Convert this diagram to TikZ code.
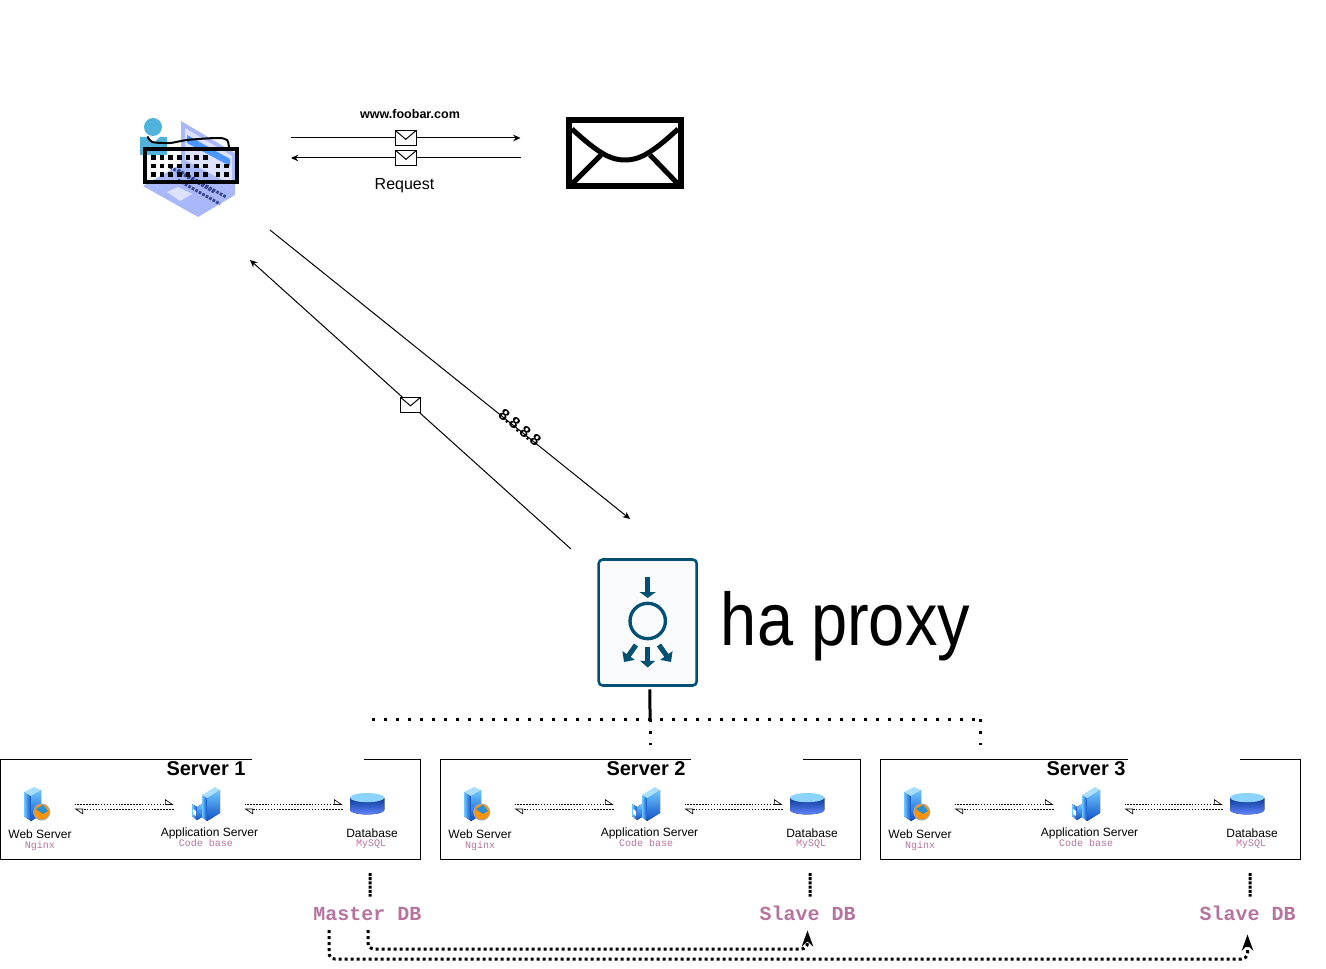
\documentclass[tikz,border=0pt]{standalone}
\usepackage{xcolor}
\usepackage{fontspec}
\setmainfont{Liberation Sans}
\setmonofont{Liberation Mono}
\usepackage{tikz}
\usetikzlibrary{arrows.meta,positioning,calc}

\definecolor{notepink}{HTML}{B5739D}
\definecolor{proxyblue}{HTML}{005073}
\definecolor{laptopblue}{HTML}{A9B8FB}
\definecolor{laptoplight}{HTML}{DCE2FF}
\definecolor{laptopdark}{HTML}{34468F}
\definecolor{personblue}{HTML}{4FB3DB}
\definecolor{towerlight}{HTML}{6FC8FF}
\definecolor{towerdark}{HTML}{0F50C8}

\newcommand{\pxfont}[1]{\fontsize{#1}{#1}\selectfont}

\begin{document}
\begin{tikzpicture}[
    x=0.75pt, y=-0.75pt, line width=0.75pt,
    arr/.style={-{Stealth[length=5.5pt,width=5pt]}},
    halfarr/.style={dash pattern=on 1.1pt off 1.1pt, line width=0.5pt, -{Triangle[open,harpoon,length=6pt,width=8pt,fill=white]}},
    mailmark/.style={draw, fill=white, inner sep=0pt, minimum width=15.5pt, minimum height=11.25pt,
        path picture={\draw[-] (path picture bounding box.north west) -- ([yshift=-1pt]path picture bounding box.center) -- (path picture bounding box.north east);}},
    toplabel/.style={inner sep=0pt, font=\pxfont{9}},
    notelabel/.style={inner sep=0pt, text=notepink, font=\ttfamily\pxfont{7.5}},
    dblabel/.style={inner sep=0pt, text=notepink, font=\ttfamily\bfseries\pxfont{15}, minimum width=81pt, minimum height=24.75pt},
    busdots/.style={line width=2.25pt, dash pattern=on 2.25pt off 6.75pt},
    stubdots/.style={line width=2.25pt, dash pattern=on 2.25pt off 0.9pt},
    dbdots/.style={line width=2.25pt, dash pattern=on 2.25pt off 2.25pt},
    syncline/.style={dbdots, rounded corners=4.5pt, -{Stealth[length=12pt,width=8.5pt]}},
    pics/webicon/.style={code={
        \fill[left color=towerlight, right color=towerdark] (24,792) -- (31,796) -- (31,821) -- (24,816) -- cycle;
        \fill[top color=towerlight, bottom color=towerdark] (31,796) -- (41,790) -- (41,815) -- (31,821) -- cycle;
        \fill[towerlight!60] (24,792) -- (34,787) -- (41,790) -- (31,796) -- cycle;
        \fill[orange!85!yellow] (41.7,812) circle (8);
        \fill[blue!40!cyan!70!gray] (36,809) -- (43,805) -- (48,811) -- (43,814) -- (40,812) -- cycle;
        \draw[gray!70] (41.7,812) circle (8);
    }},
    pics/appicon/.style={code={
        \fill[left color=towerlight, right color=towerdark] (192,804) -- (197,807) -- (197,820) -- (192,816) -- cycle;
        \fill[top color=towerlight, bottom color=towerdark] (197,807) -- (202,804) -- (202,817) -- (197,820) -- cycle;
        \fill[white] (193,809) -- (196,811) -- (196,816) -- (193,814) -- cycle;
        \fill[left color=towerlight, right color=towerdark] (202,795) -- (207,798) -- (207,821) -- (202,817) -- cycle;
        \fill[top color=towerlight, bottom color=towerdark] (207,798) -- (220,790) -- (220,813) -- (207,821) -- cycle;
        \fill[towerlight!60] (202,795) -- (215,787) -- (220,790) -- (207,798) -- cycle;
    }},
    pics/dbicon/.style={code={
        \fill[top color=towerdark!75!black, bottom color=towerlight!50!blue!80] (350,798) -- (350,810) arc[x radius=17.2, y radius=-4.4, start angle=180, end angle=360] -- (384.4,798) -- cycle;
        \fill[towerlight!80!white] (367.2,797.6) ellipse (17.2 and 4.6);
    }},
    pics/serverunit/.style 2 args={code={
        \node[draw, minimum width=315pt, minimum height=75pt] (box) at (210.5,809.5) {};
        \node[fill=white, inner sep=0pt, minimum width=84pt, minimum height=6pt] (gap) at (#2,759.5) {};
        \node[inner sep=0pt, font=\bfseries\pxfont{15}] (title) at (206,769) {#1};
        \node[inner sep=0pt, minimum width=57pt, minimum height=24pt] (web) at (36,807) {};
        \node[inner sep=0pt, minimum width=52.5pt, minimum height=24pt] (app) at (209,807) {};
        \node[inner sep=0pt, minimum width=37.5pt, minimum height=24pt] (db) at (368,807) {};
        \pic {webicon};
        \pic {appicon};
        \pic {dbicon};
        \draw[halfarr] ([yshift=1.9pt]web.east) -- ([yshift=1.9pt]app.west);
        \draw[halfarr] ([yshift=-1.5pt]app.west) -- ([yshift=-1.5pt]web.east);
        \draw[halfarr] ([yshift=1.9pt]app.east) -- ([yshift=1.9pt]db.west);
        \draw[halfarr] ([yshift=-1.5pt]db.west) -- ([yshift=-1.5pt]app.east);
        \node[toplabel] (weblabel) at (40,834) {Web Server};
        \node[notelabel] (webnote) at (40,845.7) {Nginx};
        \node[toplabel] (applabel) at (209.5,833) {Application Server};
        \node[notelabel] (appnote) at (206,842.7) {Code base};
        \node[toplabel] (dblabel) at (372,833) {Database};
        \node[notelabel] (dbnote) at (371,844) {MySQL};
    }}
]
\useasboundingbox (0,0) rectangle (1326,969);

% laptop and person
\fill[laptopblue] (181,121) -- (235,153) -- (235,195) -- (198,217) -- (143,186) -- (181,164) -- cycle;
\fill[laptoplight] (185,128) -- (232,156) -- (232,185) -- (185,160) -- cycle;
\fill[blue!60!cyan!70] (187,135) -- (230,159) -- (230,166) -- (187,143) -- cycle;
\fill[laptoplight] (167,192) -- (178,187) -- (192,194) -- (180,201) -- cycle;
\draw[laptopdark, line width=2.2pt, dash pattern=on 2pt off 1pt] (170,167) -- (214,192);
\draw[laptopdark, line width=2.2pt, dash pattern=on 2pt off 1pt] (178,170) -- (226,197);
\draw[laptopdark, line width=2.2pt, dash pattern=on 2pt off 1pt] (178,180) -- (220,204);
\fill[personblue] (153,127) circle (9);
\fill[personblue] (140,137) -- (148,137) -- (153.5,143) -- (160,137) -- (167,137) -- (167,155) -- (140,155) -- cycle;
\draw[line width=1.5pt, line cap=round] plot[smooth] coordinates {(148,137) (152,142) (170,143) (187,140) (217,138) (227,140) (229,148)};
\node[draw, line width=3pt, minimum width=69pt, minimum height=24.5pt] (keyboard) at (191.3,165.7) {};
\draw[line width=3.4pt, dash pattern=on 3.4pt off 3.1pt] (151,157.7) -- (209,157.7);
\draw[line width=3.4pt, dash pattern=on 3.4pt off 3.1pt] (151,166) -- (209,166);
\draw[line width=3.4pt, dash pattern=on 3.4pt off 3.1pt] (151,174.3) -- (209,174.3);
\draw[line width=3.4pt, dash pattern=on 3.4pt off 3.1pt] (215.5,166) -- (229,166);
\draw[line width=3.4pt, dash pattern=on 3.4pt off 3.1pt] (215.5,174.3) -- (229,174.3);

% mail server
\node[draw, line width=4.5pt, minimum width=84pt, minimum height=49.5pt] (mail) at (624.7,153.4) {};
\draw[line width=3.75pt] (572,129) .. controls (600,155) and (612,160) .. (625,160) .. controls (638,160) and (650,155) .. (678,129);
\draw[line width=3.75pt] (572,184) -- (601,155);
\draw[line width=3.75pt] (678,184) -- (650,155);

\node[inner sep=0pt, font=\bfseries\pxfont{9.4}] (domain) at (410,114) {www.foobar.com};
\node[inner sep=0pt, font=\pxfont{12}] (request) at (404.5,186) {Request};

\coordinate (reqstart) at (291,138);
\coordinate (reqend) at (520.5,138);
\coordinate (respstart) at (521,158);
\coordinate (respend) at (291,158);
\draw[arr] (reqstart) -- node[mailmark] (mailup) {} (reqend);
\draw[arr] (respstart) -- node[mailmark] (maildown) {} (respend);

% proxy
\node[draw=proxyblue, line width=1.9pt, fill=proxyblue!2, rounded corners=3pt, minimum width=73.5pt, minimum height=94.5pt] (proxy) at (647.7,622.5) {};
\draw[proxyblue, line width=3.8pt, -{Triangle[length=4.5pt,width=12pt]}] (647.7,577) -- (647.7,598);
\draw[proxyblue, line width=2.5pt] (647.7,621) circle (17.7);
\draw[proxyblue, line width=3.8pt, -{Triangle[length=5pt,width=11pt]}] (647.7,647) -- (647.7,667.5);
\draw[proxyblue, line width=3.8pt, -{Triangle[length=6pt,width=11pt]}] (636,645) -- (624,662);
\draw[proxyblue, line width=3.8pt, -{Triangle[length=6pt,width=11pt]}] (659,645) -- (671,662);
\node[inner sep=0pt, anchor=base, xscale=0.87, font=\pxfont{56}] (proxyname) at (845.5,645) {ha proxy};

\coordinate (userout) at (270,230);
\coordinate (proxyin) at (630,519);
\coordinate (proxyout) at (571,549);
\coordinate (userin) at (250,260);
\draw[arr] (userout) -- node[pos=0.69, sloped, inner sep=0pt, yshift=1.9pt, font=\bfseries\pxfont{12}] (ipaddr) {8.8.8.8} (proxyin);
\draw[arr] (proxyout) -- node[mailmark] (mailback) {} (userin);

% servers
\pic (sa) at (0,0) {serverunit={Server 1}{308}};
\pic (sb) at (440,0) {serverunit={Server 2}{307}};
\pic (sc) at (880,0) {serverunit={Server 3}{304}};

% bus
\coordinate (busjoin) at (650,719);
\coordinate (busleft) at (372,719);
\coordinate (busright) at (980,719);
\coordinate (dropb) at (650,745);
\coordinate (dropc) at (980,745);
\draw[line width=2.25pt] ([xshift=1.7pt,yshift=-2pt]proxy.south) -- (busjoin);
\draw[busdots] (busleft) -- (busright);
\draw[busdots] (busjoin) -- (dropb);
\draw[busdots] (busright) -- (dropc);

% database roles
\node[dblabel] (master) at (367.5,913.5) {Master DB};
\node[dblabel] (slaveb) at (807.5,913.5) {Slave DB};
\node[dblabel] (slavec) at (1247.5,913.5) {Slave DB};
\coordinate (mastertop) at (370,873);
\coordinate (slavebtop) at (810,873);
\coordinate (slavectop) at (1250,873);
\draw[stubdots] (mastertop) -- ([xshift=1.9pt]master.north);
\draw[stubdots] (slavebtop) -- ([xshift=1.9pt]slaveb.north);
\draw[stubdots] (slavectop) -- ([xshift=1.9pt]slavec.north);
\draw[syncline] (368,930) -- ++(0,19) -| (slaveb.south);
\draw[syncline] (329,930) -- ++(0,29) -| ([yshift=-3pt]slavec.south);
\end{tikzpicture}
\end{document}
